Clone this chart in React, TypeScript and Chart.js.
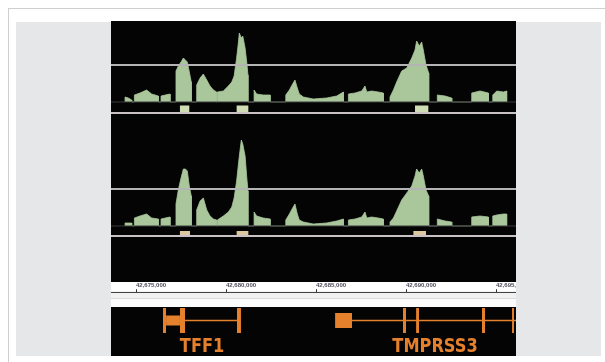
import React, { useEffect, useRef } from 'react';
import { Chart, registerables } from 'chart.js';

Chart.register(...registerables);

// ---- genomic window (bp) ----
const xMin = 42673610;
const xMax = 42696110;
const rulerTicks = [42675000, 42680000, 42685000, 42690000, 42695000];
const thresholdDepth = 37;

// ---- coverage segments: positions (bp) ----
const segmentPositions: number[][] = [
  [42674390, 42674570, 42674760],
  [42674910, 42675220, 42675590, 42675870, 42676240],
  [42676390, 42676630, 42676890],
  [42677220, 42677350, 42677500, 42677630, 42677740, 42677850, 42677960, 42678070],
  [42678370, 42678560, 42678740, 42678930, 42679110, 42679300, 42679480],
  [42679520, 42679850, 42680130, 42680320, 42680450, 42680590, 42680690, 42680740, 42680850, 42680930, 42681060, 42681150, 42681220],
  [42681560, 42681700, 42682070, 42682450],
  [42683320, 42683520, 42683700, 42683830, 42683960, 42684070, 42684300, 42684850, 42685590, 42686150, 42686520],
  [42686800, 42687170, 42687540, 42687720, 42687820, 42688090, 42688460, 42688740],
  [42689110, 42689300, 42689480, 42689760, 42690040, 42690320, 42690500, 42690590, 42690740, 42690870, 42690960, 42691110, 42691260],
  [42691740, 42692170, 42692540],
  [42693650, 42694110, 42694580],
  [42694820, 42695040, 42695410, 42695590],
];

const track1Depth: number[][] = [
  [5, 4, 2],
  [7, 9, 12, 8, 6],
  [6, 7, 8],
  [31, 36, 40, 44, 42, 40, 30, 20],
  [17, 24, 28, 22, 16, 12, 10],
  [10, 11, 16, 20, 26, 44, 60, 69, 64, 66, 54, 40, 27],
  [12, 8, 7, 7],
  [7, 12, 18, 22, 14, 8, 5, 3, 4, 6, 10],
  [8, 9, 11, 16, 10, 11, 10, 9],
  [5, 12, 20, 31, 34, 44, 52, 61, 56, 60, 52, 37, 29],
  [7, 6, 4],
  [9, 11, 9],
  [7, 11, 10, 11],
];

const track2Depth: number[][] = [
  [3, 3, 3],
  [8, 10, 12, 8, 7],
  [7, 8, 9],
  [22, 36, 48, 57, 57, 55, 40, 30],
  [16, 25, 28, 16, 10, 7, 6],
  [6, 10, 14, 19, 28, 45, 62, 70, 86, 82, 70, 49, 35],
  [14, 10, 8, 7],
  [6, 12, 18, 22, 12, 6, 4, 2, 3, 5, 7],
  [6, 7, 9, 14, 8, 9, 8, 7],
  [4, 8, 15, 26, 33, 40, 50, 57, 53, 57, 50, 36, 30],
  [7, 5, 4],
  [9, 10, 9],
  [10, 11, 12, 12],
];

// ---- called peaks (bp) ----
const track1Peaks: number[][] = [[42677440, 42677960], [42680590, 42681240], [42690500, 42691240]];
const track2Peaks: number[][] = [[42677440, 42678000], [42680590, 42681240], [42690410, 42691110]];

// ---- genes ----
const geneNames = ['TFF1', 'TMPRSS3'];
const geneLabelPos = [42678670, 42691610];
const geneIntrons: number[][] = [[42676500, 42680830], [42687000, 42700000]];
const geneExons: number[][] = [
  [42676500, 42676670], [42677440, 42677720], [42680610, 42680830],
  [42689830, 42690000], [42690560, 42690720], [42694220, 42694390], [42695890, 42696000],
];
const geneThick: number[][] = [[42676670, 42677440]];
const geneUtr: number[][] = [[42686060, 42687000]];

const GREEN = '#aac79c';
const ORANGE = '#e5802c';

function coverageData(depths: number[][]) {
  const pts: { x: number; y: number }[] = [];
  segmentPositions.forEach((pos, i) => {
    pts.push({ x: pos[0], y: 0 });
    pos.forEach((p, j) => pts.push({ x: p, y: depths[i][j] }));
    pts.push({ x: pos[pos.length - 1], y: 0 });
  });
  return pts;
}

function blockData(blocks: number[][], top: number, bottom: number) {
  const pts: { x: number; y: number }[] = [{ x: xMin, y: bottom }];
  blocks.forEach(([s, e]) => {
    pts.push({ x: s, y: bottom }, { x: s, y: top }, { x: e, y: top }, { x: e, y: bottom });
  });
  pts.push({ x: xMax, y: bottom });
  return pts;
}

const baseOptions = (yMin: number, yMax: number) => ({
  animation: false as const,
  responsive: false,
  events: [] as any[],
  layout: { padding: 0 },
  plugins: { legend: { display: false }, tooltip: { enabled: false } },
  scales: {
    x: { type: 'linear' as const, min: xMin, max: xMax, display: false },
    y: { type: 'linear' as const, min: yMin, max: yMax, display: false },
  },
});

function trackConfig(depths: number[][], peaks: number[][], yMin: number, yMax: number, peakTop: number, peakColor: string): any {
  return {
    type: 'line',
    data: {
      datasets: [
        { data: [{ x: xMin, y: thresholdDepth }, { x: xMax, y: thresholdDepth }], borderColor: '#b4b4b4', borderWidth: 2, pointRadius: 0, fill: false },
        { data: [{ x: xMin, y: 0 }, { x: xMax, y: 0 }], borderColor: '#3a3a3a', borderWidth: 1, pointRadius: 0, fill: false },
        { data: coverageData(depths), borderColor: GREEN, backgroundColor: GREEN, borderWidth: 0.8, pointRadius: 0, fill: 'origin', tension: 0 },
        { data: blockData(peaks, peakTop, yMin), borderColor: 'transparent', borderWidth: 0, backgroundColor: peakColor, pointRadius: 0, fill: { value: yMin } },
      ],
    },
    options: baseOptions(yMin, yMax),
  };
}

function rulerConfig(): any {
  return {
    type: 'line',
    data: { datasets: [] },
    options: {
      animation: false,
      responsive: false,
      events: [],
      layout: { padding: 0 },
      plugins: { legend: { display: false }, tooltip: { enabled: false } },
      scales: {
        x: {
          type: 'linear',
          position: 'top',
          min: xMin,
          max: xMax,
          afterBuildTicks: (s: any) => { s.ticks = rulerTicks.map((v) => ({ value: v })); },
          afterFit: (s: any) => { s.paddingLeft = 0; s.paddingRight = 0; },
          ticks: {
            align: 'start',
            autoSkip: false,
            maxRotation: 0,
            minRotation: 0,
            padding: 0,
            color: '#4d4d5c',
            font: { size: 6, family: 'Liberation Sans', weight: 'bold' },
            callback: (v: any) => Number(v).toLocaleString('en-US'),
          },
          grid: { drawOnChartArea: false, tickLength: 3, color: '#333', tickWidth: 1 },
          border: { display: true, color: '#444', width: 1 },
        },
        y: { min: 0, max: 1, display: false },
      },
    },
  };
}

function rect(x1: number, x2: number, half: number) {
  return {
    data: [{ x: x1, y: half }, { x: x2, y: half }],
    borderColor: 'transparent',
    borderWidth: 0,
    backgroundColor: ORANGE,
    pointRadius: 0,
    fill: { value: -half },
  };
}

function geneConfig(): any {
  const labelY = -31.5;
  const datasets: any[] = [];
  geneExons.forEach(([s, e]) => datasets.push(rect(s, e, 12.5)));
  geneUtr.forEach(([s, e]) => datasets.push(rect(s, e, 7.5)));
  geneThick.forEach(([s, e]) => datasets.push(rect(s, e, 5)));
  geneIntrons.forEach(([s, e]) => datasets.push({ data: [{ x: s, y: 0 }, { x: e, y: 0 }], borderColor: ORANGE, borderWidth: 1.6, pointRadius: 0, fill: false }));
  return {
    type: 'line',
    data: { datasets },
    options: baseOptions(-35.5, 13.5),
    plugins: [
      {
        id: 'geneLabels',
        afterDatasetsDraw(chart: any) {
          const { ctx, scales } = chart;
          ctx.font = 'bold 20px "Liberation Sans Narrow", "DejaVu Sans Condensed", sans-serif';
          ctx.fillStyle = ORANGE;
          ctx.textAlign = 'center';
          ctx.textBaseline = 'alphabetic';
          geneNames.forEach((n, i) => {
            ctx.save();
            ctx.translate(scales.x.getPixelForValue(geneLabelPos[i]), scales.y.getPixelForValue(labelY));
            ctx.scale(0.9, 1);
            ctx.fillText(n, 0, 0);
            ctx.restore();
          });
        },
      },
    ],
  };
}

function ChartBox({ left, top, width, height, makeConfig, background }: any) {
  const ref = useRef<HTMLCanvasElement>(null);
  useEffect(() => {
    const chart = new Chart(ref.current as HTMLCanvasElement, makeConfig());
    return () => chart.destroy();
  }, []);
  return (
    <div style={{ position: 'absolute', left, top, width, height, background }}>
      <canvas ref={ref} width={width} height={height} style={{ display: 'block', width, height }} />
    </div>
  );
}

export default function App() {
  const W = 405;
  return (
    <div style={{ position: 'fixed', left: 0, top: 0, width: 605, height: 362, overflow: 'hidden', background: '#fff' }}>
      <div style={{ position: 'absolute', left: 8, top: 8, width: 700, height: 500, borderTop: '1px solid #cfcfcf', borderLeft: '1px solid #cfcfcf' }} />
      <div style={{ position: 'absolute', left: 16, top: 22, width: 585, height: 334, background: '#e6e7e8' }} />
      <div style={{ position: 'absolute', left: 111, top: 21, width: W, height: 335, background: '#040404', overflow: 'hidden' }}>
        <ChartBox left={0} top={0} width={W} height={91} makeConfig={() => trackConfig(track1Depth, track1Peaks, -10, 81, -3.5, '#cfdcb4')} />
        <div style={{ position: 'absolute', left: 0, top: 91, width: W, height: 2, background: '#c9c1c5' }} />
        <ChartBox left={0} top={93} width={W} height={121} makeConfig={() => trackConfig(track2Depth, track2Peaks, -9, 112, -5, '#dcc9a0')} />
        <div style={{ position: 'absolute', left: 0, top: 214, width: W, height: 2, background: '#c9c1c5' }} />
        <ChartBox
          left={0}
          top={261}
          width={W}
          height={25}
          makeConfig={rulerConfig}
          background="linear-gradient(to bottom, #ffffff 0px, #ffffff 9px, #f1f1f1 9px, #f1f1f1 16px, #dcdcdc 16px, #dcdcdc 17px, #fbfbfb 17px, #fbfbfb 25px)"
        />
        <ChartBox left={0} top={286} width={W} height={49} makeConfig={geneConfig} />
      </div>
    </div>
  );
}
